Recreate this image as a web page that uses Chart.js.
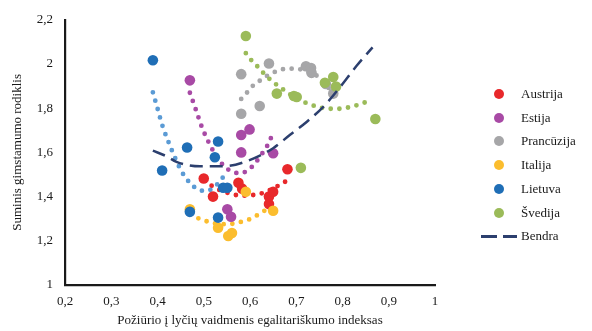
<!DOCTYPE html>
<html>
<head>
<meta charset="utf-8">
<script src="https://cdn.jsdelivr.net/npm/chart.js@4.4.1/dist/chart.umd.min.js"></script>
<style>
  html, body { margin: 0; padding: 0; background: #fff; }
  #wrap { position: relative; width: 592px; height: 331px; }
  #legend { position: absolute; left: 0; top: 0; font-family: "Liberation Serif", "Times New Roman", serif; font-size: 13px; color: #1a1a1a; }
  .li { position: absolute; left: 480px; height: 16px; line-height: 16px; white-space: nowrap; }
  .dot { position: absolute; left: 14px; top: 3px; width: 10px; height: 10px; border-radius: 50%; }
  .lbl { position: absolute; left: 41px; top: 0; }
  .dash { position: absolute; top: 7px; height: 2.5px; background: #2c3f6e; }
</style>
</head>
<body>
<div id="wrap">
  <canvas id="c" width="592" height="331"></canvas>
  <div id="legend"></div>
</div>
<script>
// ---- Data ----
const seriesNames = ["Austrija", "Estija", "Prancūzija", "Italija", "Lietuva", "Švedija"];
const overallName = "Bendra";

const austrijaX = [0.500, 0.520, 0.575, 0.583, 0.641, 0.641, 0.650, 0.681];
const austrijaY = [1.482, 1.400, 1.463, 1.436, 1.366, 1.400, 1.422, 1.524];
const estijaX = [0.470, 0.551, 0.559, 0.581, 0.581, 0.599, 0.650];
const estijaY = [1.926, 1.343, 1.309, 1.600, 1.679, 1.704, 1.596];
const prancuzijaX = [0.581, 0.581, 0.621, 0.641, 0.721, 0.732, 0.733, 0.764, 0.780];
const prancuzijaY = [1.775, 1.954, 1.810, 2.002, 1.990, 1.982, 1.960, 1.910, 1.866];
const italijaX = [0.470, 0.531, 0.553, 0.561, 0.591, 0.650];
const italijaY = [1.343, 1.259, 1.222, 1.235, 1.422, 1.336];
const lietuvaX = [0.390, 0.410, 0.464, 0.470, 0.524, 0.531, 0.531, 0.542, 0.551];
const lietuvaY = [2.017, 1.518, 1.622, 1.331, 1.578, 1.649, 1.305, 1.440, 1.440];
const svedijaX = [0.591, 0.658, 0.695, 0.701, 0.710, 0.762, 0.780, 0.786, 0.871];
const svedijaY = [2.127, 1.866, 1.855, 1.851, 1.530, 1.915, 1.941, 1.898, 1.751];

// trend curves (dotted)
const austrijaTrendX = [0.517, 0.534, 0.553, 0.573, 0.592, 0.612, 0.630, 0.665, 0.682];
const austrijaTrendY = [1.449, 1.430, 1.416, 1.406, 1.404, 1.409, 1.418, 1.454, 1.475];
const estijaTrendX = [0.470, 0.483, 0.496, 0.512, 0.521, 0.544, 0.560, 0.579, 0.597, 0.610, 0.622, 0.642, 0.650];
const estijaTrendY = [1.870, 1.793, 1.714, 1.640, 1.605, 1.537, 1.515, 1.505, 1.522, 1.548, 1.582, 1.649, 1.693];
const prancuzijaTrendX = [0.581, 0.594, 0.607, 0.623, 0.639, 0.657, 0.676, 0.696, 0.733, 0.750, 0.780];
const prancuzijaTrendY = [1.842, 1.872, 1.903, 1.927, 1.949, 1.967, 1.978, 1.979, 1.958, 1.939, 1.866];
const italijaTrendX = [0.472, 0.488, 0.507, 0.526, 0.545, 0.565, 0.583, 0.602, 0.619, 0.636];
const italijaTrendY = [1.321, 1.302, 1.288, 1.278, 1.275, 1.278, 1.287, 1.300, 1.320, 1.342];
const lietuvaTrendX = [0.390, 0.400, 0.410, 0.429, 0.436, 0.451, 0.461, 0.472, 0.487, 0.505, 0.521, 0.534, 0.545];
const lietuvaTrendY = [1.872, 1.799, 1.725, 1.620, 1.585, 1.518, 1.485, 1.458, 1.433, 1.425, 1.440, 1.467, 1.497];
const svedijaTrendX = [0.591, 0.603, 0.617, 0.630, 0.644, 0.660, 0.675, 0.691, 0.709, 0.727, 0.746, 0.765, 0.784, 0.804, 0.823, 0.842, 0.860];
const svedijaTrendY = [2.049, 2.017, 1.987, 1.957, 1.929, 1.902, 1.880, 1.857, 1.834, 1.820, 1.806, 1.799, 1.797, 1.800, 1.809, 1.821, 1.837];

const bendraX = [0.390, 0.420, 0.441, 0.492, 0.542, 0.593, 0.650, 0.686, 0.723, 0.762, 0.795, 0.831, 0.865];
const bendraY = [1.608, 1.582, 1.557, 1.537, 1.537, 1.560, 1.619, 1.679, 1.739, 1.814, 1.896, 1.993, 2.075];

const xTicks = [0.2, 0.3, 0.4, 0.5, 0.6, 0.7, 0.8, 0.9, 1];
const yTicks = [1, 1.2, 1.4, 1.6, 1.8, 2, 2.2];

// ---- Styling ----
const colors = ["#e8282b", "#a84aa5", "#a6a6a8", "#fbbd2e", "#1f6eb6", "#9bbb59"];
const trendColors = ["#e8282b", "#a84aa5", "#a6a6a8", "#fbbd2e", "#5b9bd5", "#9bbb59"];
const navy = "#2c3f6e";

const pointsX = [austrijaX, estijaX, prancuzijaX, italijaX, lietuvaX, svedijaX];
const pointsY = [austrijaY, estijaY, prancuzijaY, italijaY, lietuvaY, svedijaY];
const trendX = [austrijaTrendX, estijaTrendX, prancuzijaTrendX, italijaTrendX, lietuvaTrendX, svedijaTrendX];
const trendY = [austrijaTrendY, estijaTrendY, prancuzijaTrendY, italijaTrendY, lietuvaTrendY, svedijaTrendY];

const zip = (xs, ys) => xs.map((x, i) => ({ x: x, y: ys[i] }));

const datasets = [];
seriesNames.forEach((name, i) => {
  datasets.push({
    label: name + " trend",
    data: zip(trendX[i], trendY[i]),
    showLine: true,
    borderColor: trendColors[i],
    borderWidth: 4.8,
    borderDash: [0, 8.7],
    borderCapStyle: "round",
    cubicInterpolationMode: "monotone",
    pointRadius: 0,
    fill: false,
    order: 200 - i
  });
  datasets.push({
    label: name,
    data: zip(pointsX[i], pointsY[i]),
    backgroundColor: colors[i],
    borderColor: colors[i],
    borderWidth: 0,
    pointRadius: 5.3,
    order: 100 - i
  });
});
datasets.push({
  label: overallName,
  data: zip(bendraX, bendraY),
  showLine: true,
  borderColor: navy,
  borderWidth: 2.5,
  borderDash: [13, 7],
  cubicInterpolationMode: "monotone",
  pointRadius: 0,
  fill: false,
  order: 0
});

const fmt = v => (Math.round(v * 10) / 10).toString().replace(".", ",");

Chart.defaults.font.family = '"Liberation Serif", "Times New Roman", serif';
Chart.defaults.font.size = 13;
Chart.defaults.color = "#1a1a1a";

new Chart(document.getElementById("c"), {
  type: "scatter",
  data: { datasets: datasets },
  options: {
    responsive: false,
    animation: false,
    devicePixelRatio: 1,
    layout: { padding: { top: 17, right: 157, bottom: 0, left: 0 } },
    plugins: { legend: { display: false }, tooltip: { enabled: false } },
    scales: {
      x: {
        type: "linear",
        min: xTicks[0], max: xTicks[xTicks.length - 1],
        afterBuildTicks: s => { s.ticks = xTicks.map(v => ({ value: v })); },
        afterFit: s => { s.height = 46; },
        grid: { display: false, drawTicks: false },
        border: { display: true, color: "#1a1a1a", width: 2.2 },
        ticks: { padding: 9, callback: v => fmt(v), maxRotation: 0, autoSkip: false },
        title: { display: true, text: "Požiūrio į lyčių vaidmenis egalitariškumo indeksas", padding: { top: 0, bottom: 3 }, font: { size: 13 } }
      },
      y: {
        type: "linear",
        min: yTicks[0], max: yTicks[yTicks.length - 1],
        afterBuildTicks: s => { s.ticks = yTicks.map(v => ({ value: v })); },
        afterFit: s => { s.width = 65; },
        grid: { display: false, drawTicks: false },
        border: { display: true, color: "#1a1a1a", width: 2.2 },
        ticks: { padding: 12, callback: v => fmt(v), autoSkip: false },
        title: { display: true, text: "Suminis gimstamumo rodiklis", padding: { top: 10, bottom: 0 }, font: { size: 13 } }
      }
    }
  }
});

// ---- Legend (HTML text) ----
const legend = document.getElementById("legend");
seriesNames.concat([overallName]).forEach((name, i) => {
  const cy = 94 + i * 23.7;
  const row = document.createElement("div");
  row.className = "li";
  row.style.top = (cy - 8) + "px";
  if (i < seriesNames.length) {
    const d = document.createElement("span");
    d.className = "dot";
    d.style.background = colors[i];
    row.appendChild(d);
  } else {
    const d1 = document.createElement("span");
    d1.className = "dash"; d1.style.left = "1px"; d1.style.width = "16px";
    const d2 = document.createElement("span");
    d2.className = "dash"; d2.style.left = "23px"; d2.style.width = "14px";
    row.appendChild(d1); row.appendChild(d2);
  }
  const t = document.createElement("span");
  t.className = "lbl";
  t.textContent = name;
  row.appendChild(t);
  legend.appendChild(row);
});
</script>
</body>
</html>
